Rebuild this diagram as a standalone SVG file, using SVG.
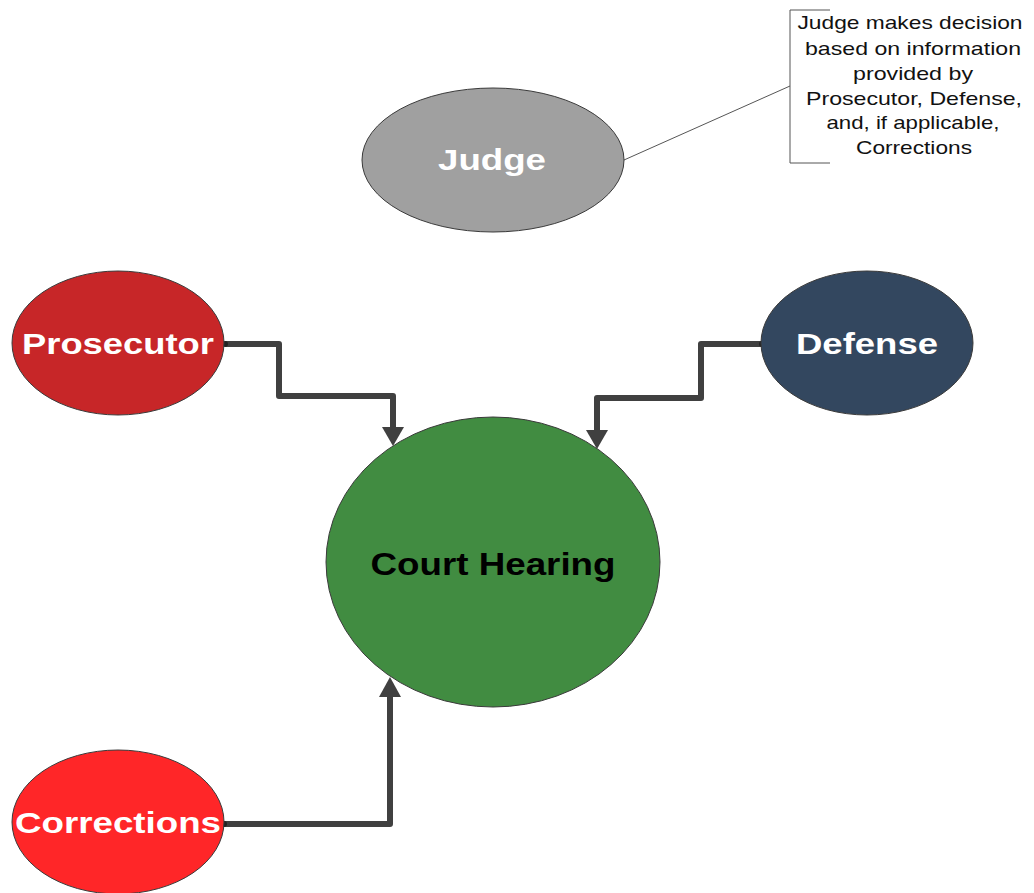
<svg xmlns="http://www.w3.org/2000/svg" width="1034" height="893" viewBox="0 0 1034 893">
  <defs>
    <style>
      .node { stroke: #3a3a3a; stroke-width: 1; }
      .label { font-family: "Liberation Sans", Arial, sans-serif; font-weight: bold; text-anchor: middle; dominant-baseline: central; }
      .wire { fill: none; stroke: #404040; stroke-width: 6; stroke-linejoin: round; }
      .head { fill: #404040; }
      .note { font-family: "Liberation Sans", Arial, sans-serif; font-size: 19px; fill: #111; text-anchor: middle; }
    </style>
  </defs>
  <rect width="1034" height="893" fill="#ffffff"/>

  <!-- connectors -->
  <g id="connectors">
    <polyline class="wire" points="225,344 279,344 279,396 393,396 393,430"/>
    <polygon class="head" points="382,427 404,427 393,446"/>
    <polyline class="wire" points="762,344 701,344 701,398 597,398 597,433"/>
    <polygon class="head" points="586,430 608,430 597,449"/>
    <polyline class="wire" points="224,824 390,824 390,694"/>
    <polygon class="head" points="379,697 401,697 390,677"/>
    <circle cx="225" cy="344" r="3" fill="#222"/>
    <circle cx="762" cy="344" r="3" fill="#222"/>
    <circle cx="224" cy="824" r="3" fill="#222"/>
  </g>

  <!-- annotation callout for the judge -->
  <g id="judge-note">
    <line x1="624" y1="160" x2="790" y2="86" stroke="#555" stroke-width="1"/>
    <polyline points="830,10 790,10 790,163 830,163" fill="none" stroke="#555" stroke-width="1"/>
    <text class="note" x="910" y="29" textLength="225" lengthAdjust="spacingAndGlyphs">Judge makes decision</text>
    <text class="note" x="913" y="55" textLength="216" lengthAdjust="spacingAndGlyphs">based on information</text>
    <text class="note" x="913" y="80" textLength="120" lengthAdjust="spacingAndGlyphs">provided by</text>
    <text class="note" x="914" y="105" textLength="216" lengthAdjust="spacingAndGlyphs">Prosecutor, Defense,</text>
    <text class="note" x="913" y="129" textLength="173" lengthAdjust="spacingAndGlyphs">and, if applicable,</text>
    <text class="note" x="914" y="154" textLength="116" lengthAdjust="spacingAndGlyphs">Corrections</text>
  </g>

  <g id="judge">
    <ellipse class="node" cx="493" cy="160" rx="131" ry="72" fill="#a0a0a0"/>
    <text class="label" x="492" y="160" font-size="29" fill="#ffffff" textLength="108" lengthAdjust="spacingAndGlyphs">Judge</text>
  </g>

  <g id="prosecutor">
    <ellipse class="node" cx="118" cy="343" rx="106" ry="72" fill="#c72628"/>
    <text class="label" x="118" y="343" font-size="30" fill="#ffffff" textLength="192" lengthAdjust="spacingAndGlyphs">Prosecutor</text>
  </g>

  <g id="defense">
    <ellipse class="node" cx="867" cy="343" rx="106" ry="72" fill="#33475f"/>
    <text class="label" x="867" y="343" font-size="30" fill="#ffffff" textLength="142" lengthAdjust="spacingAndGlyphs">Defense</text>
  </g>

  <g id="court-hearing">
    <ellipse class="node" cx="493" cy="562" rx="167" ry="145" fill="#418c41"/>
    <text class="label" x="493" y="564" font-size="31" fill="#000000" textLength="245" lengthAdjust="spacingAndGlyphs">Court Hearing</text>
  </g>

  <g id="corrections">
    <ellipse class="node" cx="118" cy="822" rx="106" ry="72" fill="#ff2628"/>
    <text class="label" x="118" y="822" font-size="30" fill="#ffffff" textLength="206" lengthAdjust="spacingAndGlyphs">Corrections</text>
  </g>
</svg>
